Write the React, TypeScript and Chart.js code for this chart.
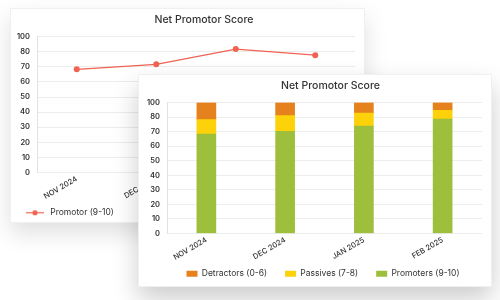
import React, { useEffect, useRef } from "react";
import { Chart, registerables } from "chart.js";

Chart.register(...registerables);

// ---- data ----
const months = ["NOV 2024", "DEC 2024", "JAN 2025", "FEB 2025"];
const promotorLine = [75.9, 79.6, 90.8, 86.3];
const promoters = [76, 78, 82, 87.5];
const passives = [11, 12, 10, 6.5];
const detractors = [13, 10, 8, 6];
const yTickLabels = ["0", "10", "20", "30", "40", "50", "60", "70", "80", "100"];

const FONT = 'Inter, "Open Sans", sans-serif';
const LINE_COLOR = "#ef6352";
const ORANGE = "#e5821e";
const YELLOW = "#fdd20a";
const GREEN = "#9dbf3b";
const TEXT = "#333";

// nudges title / legend horizontally and lets rotated x labels overflow their box
function nudgePlugin(titleDx: number, legendDx: number) {
  return {
    id: "nudge",
    afterLayout(chart: any) {
      const t = chart.titleBlock;
      if (t) {
        t.left += titleDx;
        t.right += titleDx;
      }
      const l = chart.legend;
      if (l && legendDx) {
        l.left += legendDx;
        l.right += legendDx;
      }
      if (chart.scales.x) chart.scales.x.bottom = chart.height;
    },
  };
}

function yAxis(stacked: boolean) {
  return {
    stacked,
    min: 0,
    max: 100,
    afterBuildTicks: (s: any) => {
      s.ticks = yTickLabels.map((_, i) => ({ value: (i * 100) / (yTickLabels.length - 1) }));
    },
    afterFit: (s: any) => {
      s.width = 27;
    },
    ticks: {
      autoSkip: false,
      callback: (_v: any, i: number) => yTickLabels[i],
      font: { family: FONT, size: 7.5, weight: 600 },
      color: TEXT,
      padding: 7,
    },
    grid: { color: "#ececec", drawTicks: false, lineWidth: 1 },
    border: { display: true, color: "#e2e2e2" },
  };
}

function xAxis(stacked: boolean, h: number) {
  return {
    stacked,
    offset: true,
    afterFit: (s: any) => {
      s.height = h;
    },
    ticks: {
      autoSkip: false,
      minRotation: 30,
      maxRotation: 30,
      font: { family: FONT, size: 7.5, weight: 500 },
      color: TEXT,
      padding: 2,
    },
    grid: { display: false, drawTicks: false },
    border: { display: false },
  };
}

function titleOpts() {
  return {
    display: true,
    text: "Net Promotor Score",
    fullSize: false,
    color: TEXT,
    font: { family: FONT, size: 10.5, weight: 500 },
    padding: { top: 6, bottom: 10 },
  };
}

function LineCard() {
  const ref = useRef<HTMLCanvasElement>(null);
  useEffect(() => {
    const sym = document.createElement("canvas");
    sym.width = 28;
    sym.height = 7;
    const c = sym.getContext("2d")!;
    c.strokeStyle = LINE_COLOR;
    c.lineWidth = 1.2;
    c.beginPath();
    c.moveTo(8, 3.5);
    c.lineTo(26, 3.5);
    c.stroke();
    c.fillStyle = LINE_COLOR;
    c.beginPath();
    c.arc(17, 3.5, 2.6, 0, Math.PI * 2);
    c.fill();

    const chart = new Chart(ref.current!, {
      type: "line",
      data: {
        labels: months,
        datasets: [
          {
            label: "Promotor (9-10)",
            data: promotorLine,
            borderColor: LINE_COLOR,
            backgroundColor: LINE_COLOR,
            borderWidth: 1.2,
            pointRadius: 3,
            pointBackgroundColor: LINE_COLOR,
            pointBorderWidth: 0,
            tension: 0,
          },
        ],
      },
      options: {
        responsive: false,
        animation: false,
        layout: { padding: { left: 0, right: 10, top: 0, bottom: -4 } },
        scales: { x: xAxis(false, 28) as any, y: yAxis(false) as any },
        plugins: {
          title: titleOpts() as any,
          tooltip: { enabled: false },
          legend: {
            position: "bottom",
            align: "start",
            labels: {
              usePointStyle: true,
              pointStyle: sym as any,
              pointStyleWidth: 28,
              font: { family: FONT, size: 8.5, weight: 400 },
              color: TEXT,
              padding: 8,
            },
          },
        },
      },
      plugins: [nudgePlugin(8, 0)],
    });
    return () => chart.destroy();
  }, []);
  return (
    <div
      style={{
        position: "absolute",
        left: 10,
        top: 8,
        width: 355,
        height: 215,
        background: "#fff",
        border: "1px solid #f0f0f0",
        boxSizing: "border-box",
        boxShadow: "0 10px 22px rgba(0,0,0,0.13)",
        overflow: "hidden",
      }}
    >
      <canvas ref={ref} width={355} height={215} style={{ position: "absolute", left: -1, top: -1 }} />
    </div>
  );
}

function BarCard() {
  const ref = useRef<HTMLCanvasElement>(null);
  useEffect(() => {
    const chart = new Chart(ref.current!, {
      type: "bar",
      data: {
        labels: months,
        datasets: [
          { label: "Promoters (9-10)", data: promoters, backgroundColor: GREEN, barThickness: 19 },
          { label: "Passives (7-8)", data: passives, backgroundColor: YELLOW, barThickness: 19 },
          { label: "Detractors (0-6)", data: detractors, backgroundColor: ORANGE, barThickness: 19 },
        ],
      },
      options: {
        responsive: false,
        animation: false,
        layout: { padding: { left: 2, right: 10, top: 0, bottom: -1 } },
        scales: { x: xAxis(true, 18) as any, y: yAxis(true) as any },
        plugins: {
          title: titleOpts() as any,
          tooltip: { enabled: false },
          legend: {
            position: "bottom",
            reverse: true,
            labels: {
              boxWidth: 11,
              boxHeight: 6,
              font: { family: FONT, size: 8.5, weight: 400 },
              color: TEXT,
              padding: 18,
            },
          },
        },
      },
      plugins: [nudgePlugin(6, 12)],
    });
    return () => chart.destroy();
  }, []);
  return (
    <div
      style={{
        position: "absolute",
        left: 138,
        top: 74,
        width: 354,
        height: 213,
        background: "#fff",
        border: "1px solid #f0f0f0",
        boxSizing: "border-box",
        boxShadow: "0 12px 24px rgba(0,0,0,0.2)",
        overflow: "hidden",
      }}
    >
      <canvas ref={ref} width={354} height={213} style={{ position: "absolute", left: -1, top: -1 }} />
    </div>
  );
}

export default function App() {
  return (
    <div style={{ position: "fixed", left: 0, top: 0, width: 500, height: 300, background: "#fff", overflow: "hidden" }}>
      <LineCard />
      <BarCard />
    </div>
  );
}
